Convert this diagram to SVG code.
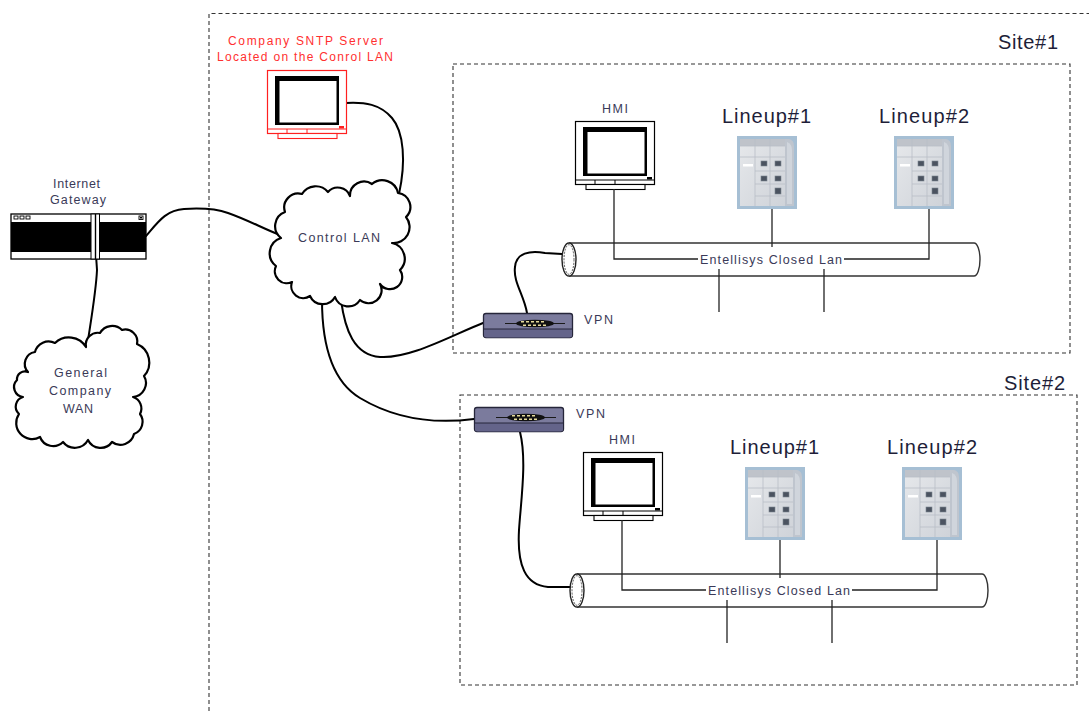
<svg xmlns="http://www.w3.org/2000/svg" xmlns:xlink="http://www.w3.org/1999/xlink" width="1089" height="711" viewBox="0 0 1089 711">
  <style>
    text { font-family: "Liberation Sans", Arial, sans-serif; }
    .lbl { font-size: 12.5px; fill: #3a3a58; }
    .big { font-size: 20px; fill: #1e1e38; }
    .red { font-size: 12px; fill: #ff3030; }
    .dash { fill: none; stroke: #333; stroke-width: 1.1; stroke-dasharray: 4 3; }
    .cable { fill: none; stroke: #000; stroke-width: 2; stroke-linecap: round; stroke-linejoin: round; }
    .bus { fill: none; stroke: #222; stroke-width: 1.3; }
    .tube { fill: none; stroke: #333; stroke-width: 1.4; }
    .cloud { fill: #fff; stroke: #000; stroke-width: 2.2; stroke-linejoin: round; }
  </style>
  <defs>
    <!-- CRT monitor, frame drawn in currentColor -->
    <g id="monitor">
      <rect x="0.5" y="0.5" width="79" height="63" fill="#fff" stroke="currentColor" stroke-width="1.2"/>
      <rect x="8" y="6" width="64" height="49" fill="#000"/>
      <rect x="12.5" y="11" width="57" height="41.5" fill="#fff"/>
      <line x1="0.5" y1="59" x2="79.5" y2="59" stroke="currentColor" stroke-width="1"/>
      <line x1="20" y1="59" x2="20" y2="63.5" stroke="currentColor" stroke-width="1"/>
      <line x1="40" y1="59" x2="40" y2="63.5" stroke="currentColor" stroke-width="1"/>
      <rect x="72" y="56" width="5" height="2.5" fill="currentColor"/>
      <rect x="11" y="63.5" width="59" height="5" fill="#fff" stroke="currentColor" stroke-width="1.1"/>
    </g>
    <!-- switchgear lineup cabinet -->
    <linearGradient id="cabBody" x1="0" y1="0" x2="1" y2="1">
      <stop offset="0" stop-color="#e6e8eb"/>
      <stop offset="1" stop-color="#cfd3d9"/>
    </linearGradient>
    <g id="cabinet">
      <rect x="0" y="0" width="60" height="73" fill="#a6bfd4"/>
      <rect x="3" y="3" width="45" height="67" fill="url(#cabBody)"/>
      <path d="M48,3 H52 Q57,4 57,10 V70 H48 Z" fill="#bfc5ce"/>
      <path d="M50,6 Q55,8 55,14 V68 H50 Z" fill="#d0d5dc"/>
      <rect x="3" y="3" width="45" height="7" fill="#bfc3ca"/>
      <g stroke="#b9bec6" stroke-width="0.8" fill="none">
        <line x1="18" y1="3" x2="18" y2="70"/>
        <line x1="33" y1="3" x2="33" y2="70"/>
        <line x1="3" y1="10" x2="48" y2="10"/>
        <line x1="3" y1="21" x2="48" y2="21"/>
        <line x1="18" y1="35" x2="48" y2="35"/>
        <line x1="18" y1="48" x2="48" y2="48"/>
        <line x1="18" y1="60" x2="48" y2="60"/>
      </g>
      <g fill="#4b5360" stroke="#7c8590" stroke-width="0.6">
        <rect x="24" y="25" width="6" height="5"/>
        <rect x="38" y="25" width="6" height="5"/>
        <rect x="24" y="40" width="6" height="5"/>
        <rect x="38" y="40" width="6" height="5"/>
        <rect x="38" y="52" width="6" height="6"/>
      </g>
      <rect x="6" y="28" width="10" height="2.5" fill="#fff"/>
    </g>
    <!-- VPN appliance -->
    <g id="vpn">
      <rect x="0.5" y="0.5" width="89" height="24" rx="2.5" fill="#7b7b9d" stroke="#26263a" stroke-width="1.3"/>
      <path d="M1,16 H89 V22 Q89,24.5 86.5,24.5 H3.5 Q1,24.5 1,22 Z" fill="#64648a"/>
      <line x1="1" y1="16" x2="89" y2="16" stroke="#26263a" stroke-width="1"/>
      <path d="M22,10.5 H82" stroke="#1a1a1a" stroke-width="1.2"/>
      <ellipse cx="52" cy="10.5" rx="19" ry="3.8" fill="#111"/>
      <g fill="#e8dc9a">
        <rect x="38" y="8" width="3" height="1.5"/>
        <rect x="43" y="8" width="3" height="1.5"/>
        <rect x="48" y="8" width="3" height="1.5"/>
        <rect x="53" y="8" width="3" height="1.5"/>
        <rect x="58" y="8" width="3" height="1.5"/>
        <rect x="40" y="11.5" width="3" height="1.5"/>
        <rect x="45" y="11.5" width="3" height="1.5"/>
        <rect x="50" y="11.5" width="3" height="1.5"/>
        <rect x="55" y="11.5" width="3" height="1.5"/>
        <rect x="60" y="11.5" width="3" height="1.5"/>
      </g>
    </g>
    <!-- closed LAN tube with bus taps -->
    <g id="lanbus">
      <path class="tube" d="M569,243 H974 A6,16.5 0 0 1 974,276 H569"/>
      <ellipse cx="569" cy="259.5" rx="7" ry="16.5" fill="#fff" stroke="#222" stroke-width="1.4"/>
      <ellipse cx="569" cy="259.5" rx="5" ry="14.8" fill="none" stroke="#444" stroke-width="0.9" stroke-dasharray="2 1.2"/>
      <path class="bus" d="M614,189 V259 H698"/>
      <path class="bus" d="M844,259 H929 V209"/>
      <path class="bus" d="M772,209 V247"/>
      <path class="bus" d="M719,269 V312"/>
      <path class="bus" d="M824,269 V312"/>
      <text class="lbl" x="700" y="264" textLength="142" lengthAdjust="spacing">Entellisys Closed Lan</text>
    </g>
  </defs>

  <!-- zone boundaries -->
  <g id="zones">
    <path class="dash" d="M209,711 V13.5 H1089"/>
    <rect class="dash" x="453" y="64" width="617" height="289"/>
    <text class="big" x="998" y="49" textLength="60" lengthAdjust="spacing">Site#1</text>
    <rect class="dash" x="460" y="395" width="617" height="290"/>
    <text class="big" x="1004" y="390" textLength="61" lengthAdjust="spacing">Site#2</text>
  </g>

  <!-- cabling -->
  <g id="connectors">
    <path class="cable" d="M146,236 C158,222 166,210 184,209 C200,208 214,208 228,213 C248,220 264,229 280,235"/>
    <path class="cable" d="M96,255 L97,270 C96,292 91,320 87,347"/>
    <path class="cable" d="M346,103 C365,102 380,104 392,118 C404,132 406,162 399,194"/>
    <path class="cable" d="M341,300 C345,330 354,355 380,357 C410,359 450,336 483,323"/>
    <path class="cable" d="M322,300 C322,340 330,380 360,398 C385,413 420,426 474,419"/>
    <path class="cable" d="M527,313 C524,295 513,282 515,267 C516,253 530,250 545,253 L562,254"/>
    <path class="cable" d="M520,432 C527,460 521,500 519,530 C517,565 525,585 548,587 L571,587"/>
  </g>

  <!-- internet gateway -->
  <g id="gateway">
    <text class="lbl" x="53" y="188" textLength="47" lengthAdjust="spacing">Internet</text>
    <text class="lbl" x="50" y="204" textLength="56" lengthAdjust="spacing">Gateway</text>
    <rect x="11" y="214" width="135" height="45" fill="#fff" stroke="#000" stroke-width="1.3"/>
    <rect x="11" y="222" width="135" height="30" fill="#000"/>
    <rect x="91" y="214" width="8.5" height="45" fill="#fff" stroke="#000" stroke-width="1"/>
    <line x1="95.5" y1="214" x2="95.5" y2="259" stroke="#000" stroke-width="1.4"/>
    <g fill="#fff" stroke="#000" stroke-width="0.9">
      <rect x="14" y="216" width="4" height="3"/>
      <rect x="20" y="216" width="4" height="3"/>
      <rect x="26" y="216" width="4" height="3"/>
      <rect x="139" y="216" width="4" height="3.5"/>
    </g>
    <rect x="140" y="217" width="2" height="1.5" fill="#000"/>
  </g>

  <!-- general company WAN cloud -->
  <g id="wan">
    <path class="cloud" d="M28,372 A12,12 0 0 1 35,352 A14,14 0 0 1 55,343 A20,20 0 0 1 86,347 A12,12 0 0 1 100,333 A14,14 0 0 1 122,330 A12,12 0 0 1 137,344 A20,20 0 0 1 144,376 A14,14 0 0 1 133,397 A12,12 0 0 1 140,414 A13,13 0 0 1 134,434 A14,14 0 0 1 112,442 A14,14 0 0 1 88,440 A15,15 0 0 1 63,442 A14,14 0 0 1 40,437 A16,16 0 0 1 19,414 A10,10 0 0 1 23,397 A10,10 0 0 1 17,380 A8,8 0 0 1 28,372 Z"/>
    <text class="lbl" x="54" y="377" textLength="53" lengthAdjust="spacing">General</text>
    <text class="lbl" x="49" y="395" textLength="62" lengthAdjust="spacing">Company</text>
    <text class="lbl" x="63" y="413" textLength="30" lengthAdjust="spacing">WAN</text>
  </g>

  <!-- control LAN cloud -->
  <g id="control-lan">
    <path class="cloud" d="M281,238 A15,15 0 0 1 285,212 A14,14 0 0 1 302,194 A16,16 0 0 1 328,192 A13,13 0 0 1 350,196 A14,14 0 0 1 372,184 A16,16 0 0 1 398,193 A14,14 0 0 1 406,217 A16,16 0 0 1 392,243 A16,16 0 0 1 400,270 A12,12 0 0 1 380,284 A13,13 0 0 1 360,300 A14,14 0 0 1 335,297 A14,14 0 0 1 310,296 A12,12 0 0 1 292,282 A12,12 0 0 1 276,266 A16,16 0 0 1 281,238 Z"/>
    <text class="lbl" x="298" y="242" textLength="82" lengthAdjust="spacing">Control  LAN</text>
  </g>

  <!-- company SNTP server -->
  <g id="sntp-server">
    <text class="red" x="228" y="45" textLength="155" lengthAdjust="spacing">Company SNTP Server</text>
    <text class="red" x="217" y="61" textLength="176" lengthAdjust="spacing">Located on the Conrol LAN</text>
    <use xlink:href="#monitor" href="#monitor" x="267" y="70" style="color:#ff2020"/>
  </g>

  <!-- site 1 -->
  <g id="site1-vpn">
    <use xlink:href="#vpn" href="#vpn" x="483" y="313"/>
    <text class="lbl" x="584" y="324" textLength="29" lengthAdjust="spacing">VPN</text>
  </g>
  <g id="site1-hmi">
    <text class="lbl" x="602" y="113" font-size="11" textLength="26" lengthAdjust="spacing">HMI</text>
    <use xlink:href="#monitor" href="#monitor" x="575" y="121" style="color:#000"/>
  </g>
  <g id="site1-lineup1">
    <text class="big" x="722" y="123" textLength="89" lengthAdjust="spacing">Lineup#1</text>
    <use xlink:href="#cabinet" href="#cabinet" x="737" y="136"/>
  </g>
  <g id="site1-lineup2">
    <text class="big" x="879" y="123" textLength="90" lengthAdjust="spacing">Lineup#2</text>
    <use xlink:href="#cabinet" href="#cabinet" x="894" y="136"/>
  </g>
  <g id="site1-lan">
    <use xlink:href="#lanbus" href="#lanbus"/>
  </g>

  <!-- site 2 -->
  <g id="site2-vpn">
    <use xlink:href="#vpn" href="#vpn" x="474" y="407"/>
    <text class="lbl" x="576" y="418" textLength="29" lengthAdjust="spacing">VPN</text>
  </g>
  <g id="site2-hmi">
    <text class="lbl" x="609" y="444" font-size="11" textLength="26" lengthAdjust="spacing">HMI</text>
    <use xlink:href="#monitor" href="#monitor" x="583" y="452" style="color:#000"/>
  </g>
  <g id="site2-lineup1">
    <text class="big" x="730" y="454" textLength="89" lengthAdjust="spacing">Lineup#1</text>
    <use xlink:href="#cabinet" href="#cabinet" x="745" y="467"/>
  </g>
  <g id="site2-lineup2">
    <text class="big" x="887" y="454" textLength="90" lengthAdjust="spacing">Lineup#2</text>
    <use xlink:href="#cabinet" href="#cabinet" x="902" y="467"/>
  </g>
  <g id="site2-lan">
    <use xlink:href="#lanbus" href="#lanbus" transform="translate(8,331)"/>
  </g>
</svg>
